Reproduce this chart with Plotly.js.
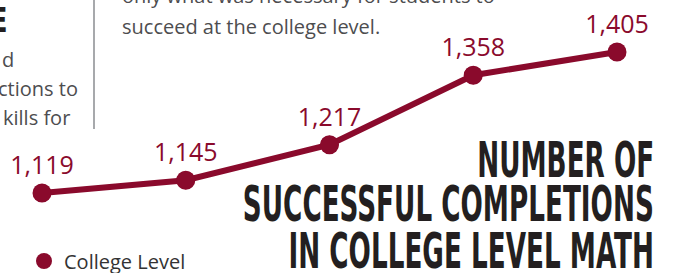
<!DOCTYPE html>
<html>
<head>
<meta charset="utf-8">
<script src="https://cdn.plot.ly/plotly-3.0.1.min.js"></script>
<style>html,body{margin:0;padding:0;background:#fff;}#chart{width:673px;height:273px;}</style>
</head>
<body>
<div id="chart"></div>
<script>
const categories = ['Year 1', 'Year 2', 'Year 3', 'Year 4', 'Year 5'];
const completions = [1119, 1145, 1217, 1358, 1405];
const valueLabels = ['1,119', '1,145', '1,217', '1,358', '1,405'];
const seriesName = 'College Level';
const titleLines = ['NUMBER OF', 'SUCCESSFUL COMPLETIONS', 'IN COLLEGE LEVEL MATH'];
const bodyTopLines = ['only what was necessary for students to', 'succeed at the college level.'];
const bodyLeftLines = ['d', 'ctions to', 'kills for'];
const headingFragment = 'E';

const MAROON = '#8a0a2c';
const W = 673, H = 273;
const px = x => x / W;
const py = y => 1 - y / H;
const condensed = 'Liberation Sans Narrow, DejaVu Sans Condensed, Roboto, sans-serif';
const body = 'Open Sans, Noto Sans, sans-serif';

const traces = [
  {
    x: categories, y: completions, text: valueLabels,
    type: 'scatter', mode: 'lines+markers+text',
    line: {color: MAROON, width: 6},
    marker: {color: MAROON, size: 19},
    textposition: 'top center',
    textfont: {family: body, size: 25, color: MAROON},
    showlegend: false, hoverinfo: 'skip', cliponaxis: false
  },
  {
    x: categories, y: completions, name: seriesName,
    type: 'scatter', mode: 'markers',
    marker: {color: MAROON, size: 18},
    showlegend: true, hoverinfo: 'skip'
  }
];

const annotations = [];
titleLines.forEach((t, i) => {
  annotations.push({xref: 'paper', yref: 'paper', x: px(655), y: py([160, 204, 251][i]),
    xanchor: 'right', yanchor: 'middle', showarrow: false, text: '<b>' + t + '</b>',
    font: {family: condensed, size: 50, color: '#231f20'}, borderpad: 0});
});
bodyTopLines.forEach((t, i) => {
  annotations.push({xref: 'paper', yref: 'paper', x: px(121), y: py([-5, 26][i]),
    xanchor: 'left', yanchor: 'middle', showarrow: false, text: t,
    font: {family: body, size: 20, color: '#4d4d4f'}, borderpad: 0});
});
bodyLeftLines.forEach((t, i) => {
  annotations.push({xref: 'paper', yref: 'paper', x: px([15, 79, 71][i]), y: py([59, 89, 117][i]),
    xanchor: 'right', yanchor: 'middle', showarrow: false, text: t,
    font: {family: body, size: 20, color: '#4d4d4f'}, borderpad: 0});
});
annotations.push({xref: 'paper', yref: 'paper', x: px(9), y: py(20.5),
  xanchor: 'right', yanchor: 'middle', showarrow: false, text: '<b>' + headingFragment + '</b>',
  font: {family: condensed, size: 34, color: '#231f20'}, borderpad: 0});

const layout = {
  width: W, height: H,
  margin: {l: 0, r: 0, t: 0, b: 0, autoexpand: false},
  paper_bgcolor: '#fff', plot_bgcolor: '#fff',
  xaxis: {range: [-0.2922, 4.3896], visible: false, fixedrange: true},
  yaxis: {range: [956.8, 1510.5], visible: false, fixedrange: true},
  showlegend: true,
  legend: {x: px(24), y: py(261), xanchor: 'left', yanchor: 'middle',
    font: {family: body, size: 20, color: '#333'}, bgcolor: 'rgba(0,0,0,0)', borderwidth: 0},
  shapes: [{type: 'line', xref: 'paper', yref: 'paper', x0: px(94), x1: px(94), y0: py(0), y1: py(129),
    line: {color: '#a7a9ac', width: 2}}],
  annotations: annotations
};

Plotly.newPlot('chart', traces, layout, {displayModeBar: false, staticPlot: true}).then(gd => {
  // fit condensed title lines to the reference width by horizontal scaling
  const groups = gd.querySelectorAll('.annotation');
  const texts = [];
  for (let i = 0; i < 3; i++) {
    const t = groups[i] && groups[i].querySelector('text');
    if (t) texts.push(t);
  }
  if (texts.length === 3) {
    const bb = texts[1].getBBox();
    const sx = Math.min(1, 411 / bb.width);
    texts.forEach(t => {
      const b = t.getBBox();
      const R = b.x + b.width;
      t.setAttribute('transform', 'translate(' + R + ',0) scale(' + sx + ',1) translate(' + (-R) + ',0)');
    });
  }
});
</script>
</body>
</html>
